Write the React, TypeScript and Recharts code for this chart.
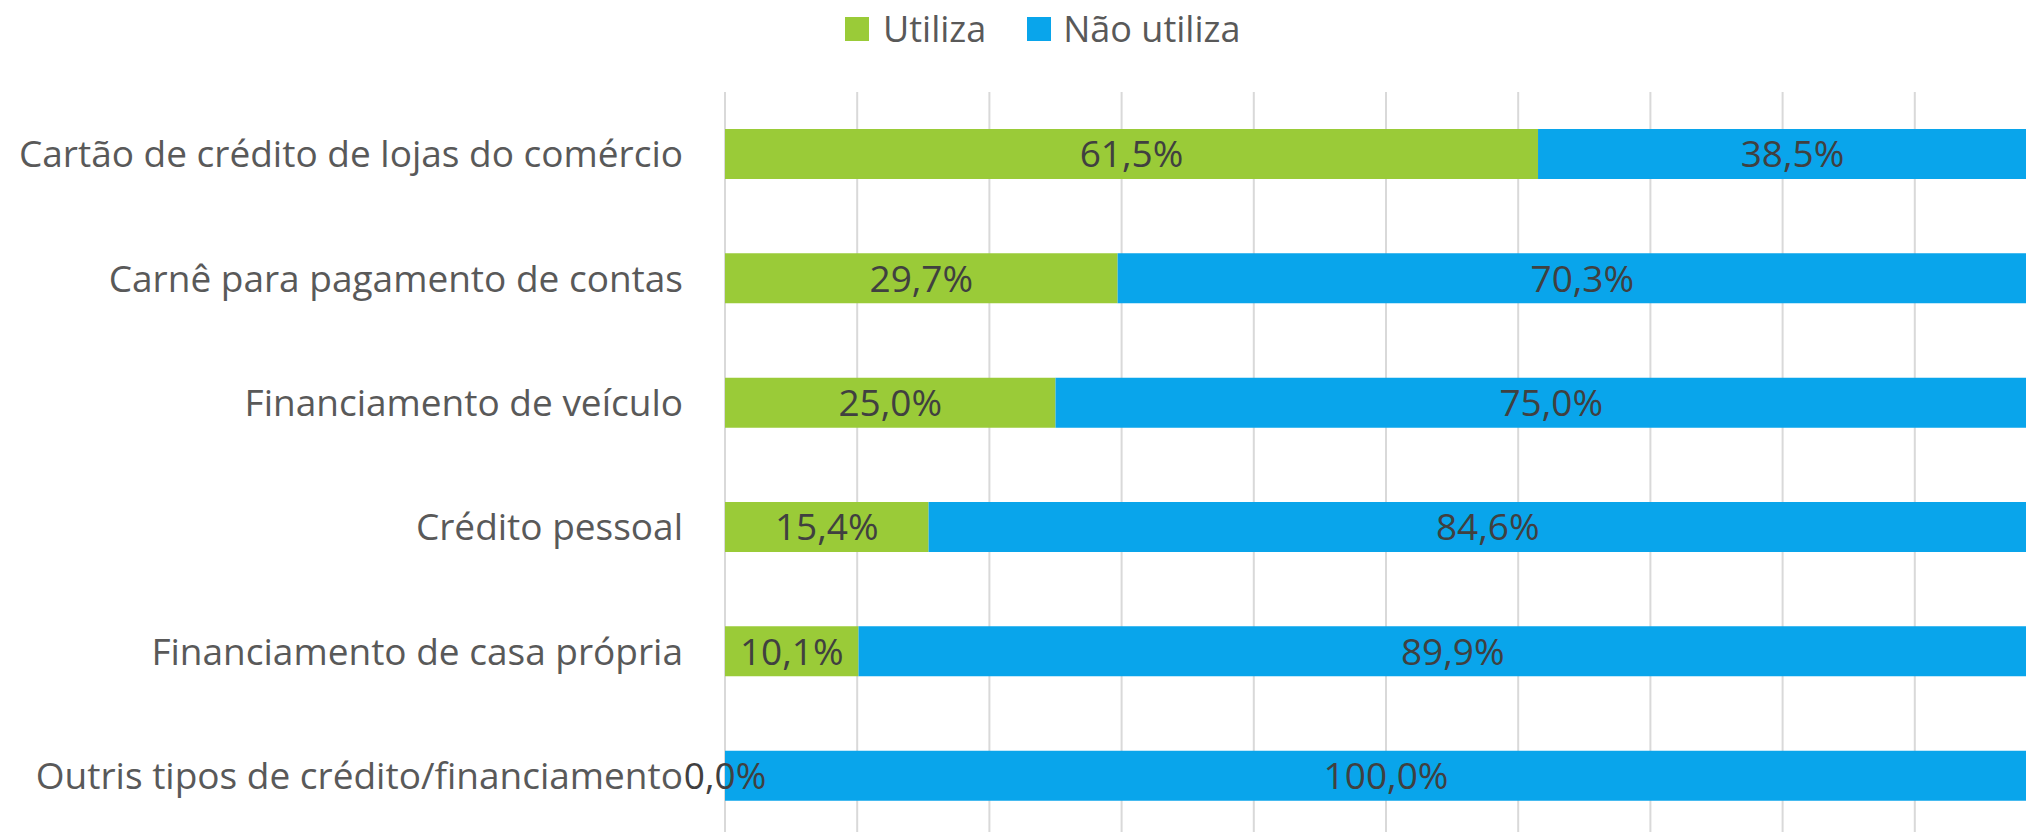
import React from 'react';
import { BarChart, Bar, XAxis, YAxis, CartesianGrid, Legend, LabelList } from 'recharts';

const categories = [
  'Cartão de crédito de lojas do comércio',
  'Carnê para pagamento de contas',
  'Financiamento de veículo',
  'Crédito pessoal',
  'Financiamento de casa própria',
  'Outris tipos de crédito/financiamento',
];
const utiliza = [61.5, 29.7, 25.0, 15.4, 10.1, 0.0];
const naoUtiliza = [38.5, 70.3, 75.0, 84.6, 89.9, 100.0];
const xTicks = [0, 10, 20, 30, 40, 50, 60, 70, 80, 90, 100];

const GREEN = '#9ACB38';
const BLUE = '#09A5EB';
const FONT = '"Open Sans", "Noto Sans", sans-serif';

const data = categories.map((name, i) => ({
  name,
  utiliza: utiliza[i],
  naoUtiliza: naoUtiliza[i],
}));

const fmt = (v: number) => v.toFixed(1).replace('.', ',') + '%';

const CategoryTick = ({ x, y, payload }: any) => (
  <text
    x={x - 34}
    y={y}
    dy="0.36em"
    textAnchor="end"
    fill="#595959"
    fontSize={37}
    fontFamily={FONT}
  >
    {payload.value}
  </text>
);

const EmptyTick = () => <g />;

const ValueLabel = ({ x, y, width, height, value }: any) => (
  <text
    x={x + width / 2}
    y={y + height / 2}
    dy="0.36em"
    textAnchor="middle"
    fill="#404040"
    fontSize={37}
    fontFamily={FONT}
  >
    {fmt(value)}
  </text>
);

// green labels drawn from the blue bar's layer so they sit on top (like the 0,0% one)
const UtilizaLabel = ({ x, y, width, height, value, index }: any) => {
  const pxPerUnit = width / naoUtiliza[index];
  const cx = x - (value * pxPerUnit) / 2;
  return (
    <text
      x={cx}
      y={y + height / 2}
      dy="0.36em"
      textAnchor="middle"
      fill="#404040"
      fontSize={37}
      fontFamily={FONT}
    >
      {fmt(value)}
    </text>
  );
};

const LegendContent = () => (
  <div style={{ display: 'flex', alignItems: 'center', height: 36, fontFamily: FONT, fontSize: 36, color: '#595959' }}>
    <span style={{ width: 24, height: 24, background: GREEN, display: 'inline-block' }} />
    <span style={{ marginLeft: 14, lineHeight: '36px' }}>Utiliza</span>
    <span style={{ width: 24, height: 24, background: BLUE, display: 'inline-block', marginLeft: 41 }} />
    <span style={{ marginLeft: 12, lineHeight: '36px' }}>Não utiliza</span>
  </div>
);

export default function App() {
  return (
    <div style={{ position: 'absolute', left: 0, top: 0, width: 2026, height: 832, overflow: 'hidden', background: '#fff' }}>
      <BarChart
        width={2060}
        height={850}
        data={data}
        layout="vertical"
        margin={{ top: 56, right: 13, bottom: 12, left: 0 }}
        barSize={50}
      >
        <CartesianGrid horizontal={false} stroke="#D9D9D9" strokeWidth={2} />
        <XAxis
          type="number"
          domain={[0, 100]}
          ticks={xTicks}
          axisLine={false}
          tickLine={false}
          tick={EmptyTick}
          height={0}
        />
        <YAxis
          type="category"
          dataKey="name"
          width={725}
          axisLine={false}
          tickLine={false}
          tick={<CategoryTick />}
        />
        <Legend
          verticalAlign="top"
          content={<LegendContent />}
          wrapperStyle={{ position: 'absolute', left: 845, top: 11, width: 'auto' }}
        />
        <Bar dataKey="utiliza" name="Utiliza" stackId="a" fill={GREEN} isAnimationActive={false} />
        <Bar dataKey="naoUtiliza" name="Não utiliza" stackId="a" fill={BLUE} isAnimationActive={false}>
          <LabelList dataKey="naoUtiliza" content={<ValueLabel />} />
          <LabelList dataKey="utiliza" content={<UtilizaLabel />} />
        </Bar>
      </BarChart>
    </div>
  );
}
